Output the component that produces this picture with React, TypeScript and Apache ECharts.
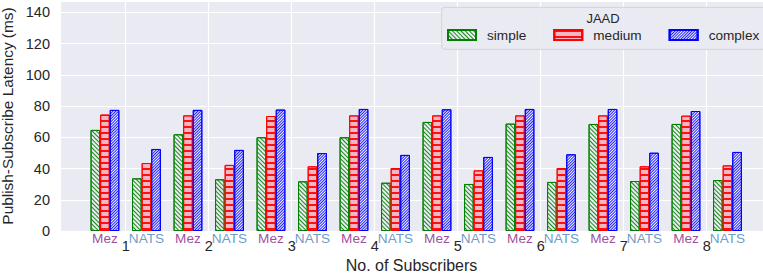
import React, { useEffect, useRef } from 'react';
import * as echarts from 'echarts';

// ---------------- data ----------------
const groups = ['1', '2', '3', '4', '5', '6', '7', '8'];
const systems = ['Mez', 'NATS'];
const workloads = ['simple', 'medium', 'complex'];

const simpleMez = [64.7, 61.9, 60.0, 60.0, 69.8, 68.7, 68.5, 68.5];
const mediumMez = [74.5, 74.0, 73.6, 74.0, 74.0, 74.0, 74.0, 73.8];
const complexMez = [77.5, 77.5, 77.7, 78.1, 77.9, 78.1, 78.1, 76.8];
const simpleNats = [33.7, 33.1, 31.8, 30.9, 30.1, 31.4, 32.0, 32.6];
const mediumNats = [43.5, 42.3, 41.4, 40.3, 38.8, 40.3, 41.4, 42.0];
const complexNats = [52.5, 51.9, 49.9, 48.7, 47.4, 49.1, 50.1, 50.6];

const yTicks = [0, 20, 40, 60, 80, 100, 120, 140];

// ---------------- styling ----------------
const FONT = "'Liberation Sans', Arial, Helvetica, sans-serif";
const TEXT = '#262626';
const BG = '#EAEAF2';
const systemColors = ['#861A86', '#4682B4'];
const SUB_OFFSET = 0.25; // Mez left of tick, NATS right of tick

const seriesStyles = [
  {
    color: 'rgba(0,0,0,0)',
    border: '#008000',
    decal: {
      symbol: 'rect',
      symbolSize: 1,
      dashArrayX: [1, 0],
      dashArrayY: [1, 1.9],
      rotation: Math.PI / 4,
      color: '#1a8a1a',
    },
  },
  {
    color: 'rgba(255,120,140,0.45)',
    border: '#FF0000',
    decal: {
      symbol: 'rect',
      symbolSize: 1,
      dashArrayX: [1, 0],
      dashArrayY: [1.2, 3.2],
      rotation: 0,
      color: '#FF1010',
    },
  },
  {
    color: 'rgba(250,250,255,0.75)',
    border: '#0000FF',
    decal: {
      symbol: 'rect',
      symbolSize: 1,
      dashArrayX: [1, 0],
      dashArrayY: [0.9, 1.0],
      rotation: -Math.PI / 4,
      color: '#2020FF',
    },
  },
];

const mezValues = [simpleMez, mediumMez, complexMez];
const natsValues = [simpleNats, mediumNats, complexNats];

function buildOption() {
  const barSeries = workloads.map((w, k) => {
    const data: number[][] = [];
    groups.forEach((g, i) => {
      data.push([i + 1 - SUB_OFFSET, mezValues[k][i]]);
      data.push([i + 1 + SUB_OFFSET, natsValues[k][i]]);
    });
    const st = seriesStyles[k];
    return {
      name: w,
      type: 'bar',
      data,
      barWidth: 9.6,
      barGap: '0%',
      itemStyle: {
        color: st.color,
        borderColor: st.border,
        borderWidth: 1,
        decal: st.decal,
      },
      emphasis: { disabled: true },
      z: 2,
    };
  });

  const labelData: any[] = [];
  groups.forEach((g, i) => {
    systems.forEach((s, j) => {
      labelData.push({
        value: [i + 1 + (j === 0 ? -SUB_OFFSET : SUB_OFFSET), 0],
        name: s,
        label: { color: systemColors[j] },
      });
    });
  });

  return {
    animation: false,
    backgroundColor: '#FFFFFF',
    grid: {
      left: 60,
      right: 0,
      top: 1,
      bottom: 48,
      show: true,
      backgroundColor: BG,
      borderWidth: 0,
      containLabel: false,
      outerBoundsMode: 'none',
    },
    xAxis: {
      type: 'value',
      min: 0.2084,
      max: 8.678,
      minInterval: 1,
      maxInterval: 1,
      name: 'No. of Subscribers',
      nameLocation: 'middle',
      nameGap: 16,
      nameTextStyle: { fontSize: 16, color: TEXT, fontFamily: FONT },
      axisLine: { show: false },
      axisTick: { show: false },
      axisLabel: {
        fontSize: 14.5,
        color: TEXT,
        fontFamily: FONT,
        margin: 7,
        formatter: (v: number) => {
          const idx = Math.round(v);
          return Math.abs(v - idx) < 1e-6 && idx >= 1 && idx <= groups.length ? groups[idx - 1] : '';
        },
      },
      splitLine: { show: true, lineStyle: { color: '#FFFFFF', width: 1.2 } },
    },
    yAxis: {
      type: 'value',
      min: yTicks[0],
      max: 147.2,
      interval: 20,
      name: 'Publish-Subscribe Latency (ms)',
      nameLocation: 'middle',
      nameGap: 38,
      nameTextStyle: { fontSize: 15.4, color: TEXT, fontFamily: FONT },
      axisLine: { show: false },
      axisTick: { show: false },
      axisLabel: {
        fontSize: 14.5,
        color: TEXT,
        fontFamily: FONT,
        margin: 10,
        formatter: (v: number) => (yTicks.indexOf(v) >= 0 ? String(v) : ''),
      },
      splitLine: { show: true, lineStyle: { color: '#FFFFFF', width: 1.2 } },
    },
    legend: {
      data: workloads,
      left: 447,
      top: 28,
      width: 400,
      orient: 'horizontal',
      icon: 'rect',
      itemWidth: 28,
      itemHeight: 10,
      itemGap: 27,
      padding: 0,
      textStyle: { fontSize: 13.6, color: TEXT, fontFamily: FONT, padding: [0, 0, 0, 6] },
      selectedMode: false,
      z: 10,
    },
    graphic: [
      {
        type: 'rect',
        shape: { x: 441.7, y: 7.3, width: 340, height: 42, r: 3 },
        style: { fill: 'rgba(234,234,242,0.9)', stroke: '#D2D2DA', lineWidth: 1 },
        z: 5,
        silent: true,
      },
      {
        type: 'text',
        x: 603,
        y: 18,
        style: {
          text: 'JAAD',
          fill: TEXT,
          font: `13px ${FONT}`,
          textAlign: 'center',
          textVerticalAlign: 'middle',
        },
        z: 11,
        silent: true,
      },
    ],
    series: [
      ...barSeries,
      {
        name: 'systemLabels',
        type: 'scatter',
        data: labelData,
        symbolSize: 1,
        itemStyle: { color: 'rgba(0,0,0,0)' },
        silent: true,
        clip: false,
        label: {
          show: true,
          position: 'bottom',
          distance: 0,
          fontSize: 13.6,
          fontFamily: FONT,
          formatter: (p: any) => p.name,
        },
        z: 3,
      },
    ],
  };
}

export default function App() {
  const ref = useRef<HTMLDivElement>(null);
  useEffect(() => {
    if (!ref.current) return;
    const chart = echarts.init(ref.current, undefined, { renderer: 'svg' });
    chart.setOption(buildOption() as any);
    return () => chart.dispose();
  }, []);
  return (
    <div
      ref={ref}
      style={{ position: 'absolute', left: 0, top: 0, width: 763, height: 279 }}
    />
  );
}
